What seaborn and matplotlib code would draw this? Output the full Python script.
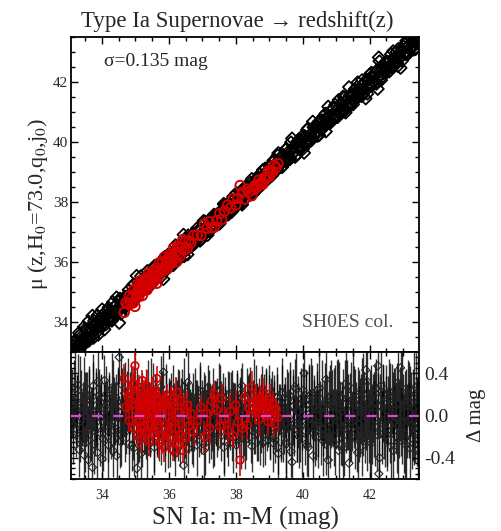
import numpy as np
import pandas as pd
import matplotlib
matplotlib.use("Agg")
import matplotlib.pyplot as plt
import seaborn as sns
from matplotlib.ticker import MultipleLocator, FuncFormatter

sns.set_style("ticks")
plt.rcParams['font.family'] = ['Liberation Serif', 'DejaVu Serif']
plt.rcParams['mathtext.fontset'] = 'stix'

# ---------------- data ----------------
black_mM = [
    33.12, 33.15, 33.20, 33.24, 33.27, 33.32, 33.36, 33.39, 33.44, 33.48, 33.51, 33.56, 33.60,
    33.63, 33.68, 33.72, 33.75, 33.80, 33.84, 33.87, 33.92, 33.96, 33.99, 34.04, 34.08, 34.11,
    34.16, 34.20, 34.23, 34.28, 34.32, 34.35, 34.40, 34.44, 34.47, 34.52, 34.56, 34.59, 34.64,
    34.68, 34.71, 34.76, 34.80, 34.83, 34.88, 34.92, 34.95, 35.00, 35.04, 35.07, 35.12, 35.16,
    35.19, 35.24, 35.28, 35.31, 35.36, 35.40, 35.43, 35.48, 35.52, 35.55, 35.60, 35.64, 35.67,
    35.72, 35.76, 35.79, 35.84, 35.88, 35.91, 35.96, 36.00, 36.03, 36.08, 36.12, 36.15, 36.20,
    36.24, 36.27, 36.32, 36.36, 36.39, 36.44, 36.48, 36.51, 36.56, 36.60, 36.63, 36.68, 36.72,
    36.75, 36.80, 36.84, 36.87, 36.92, 36.96, 36.99, 37.04, 37.08, 37.11, 37.16, 37.20, 37.23,
    37.28, 37.32, 37.35, 37.40, 37.44, 37.47, 37.52, 37.56, 37.59, 37.64, 37.68, 37.71, 37.76,
    37.80, 37.83, 37.88, 37.92, 37.95, 38.00, 38.04, 38.07, 38.12, 38.16, 38.19, 38.24, 38.28,
    38.31, 38.36, 38.40, 38.43, 38.48, 38.52, 38.55, 38.60, 38.64, 38.67, 38.72, 38.76, 38.79,
    38.84, 38.88, 38.91, 38.96, 39.00, 39.03, 39.08, 39.12, 39.15, 39.20, 39.24, 39.27, 39.32,
    39.36, 39.39, 39.44, 39.48, 39.51, 39.56, 39.60, 39.63, 39.68, 39.72, 39.75, 39.80, 39.84,
    39.87, 39.92, 39.96, 39.99, 40.04, 40.08, 40.11, 40.16, 40.20, 40.23, 40.28, 40.32, 40.35,
    40.40, 40.44, 40.47, 40.52, 40.56, 40.59, 40.64, 40.68, 40.71, 40.76, 40.80, 40.83, 40.88,
    40.92, 40.95, 41.00, 41.04, 41.07, 41.12, 41.16, 41.19, 41.24, 41.28, 41.31, 41.36, 41.40,
    41.43, 41.48, 41.52, 41.55, 41.60, 41.64, 41.67, 41.72, 41.76, 41.79, 41.84, 41.88, 41.91,
    41.96, 42.00, 42.03, 42.08, 42.12, 42.15, 42.20, 42.24, 42.27, 42.32, 42.36, 42.39, 42.44,
    42.48, 42.51, 42.56, 42.60, 42.63, 42.68, 42.72, 42.75, 42.80, 42.84, 42.87, 42.92, 42.96,
    42.99, 43.04, 43.08, 43.11, 43.16, 43.20, 43.23, 43.28, 43.32, 43.35, 43.40, 43.44, 43.47,
    33.13, 33.17, 33.22, 33.25, 33.29, 33.34, 33.37, 33.41, 33.46, 33.49, 33.53, 33.58, 33.61,
    33.65, 33.70, 33.73, 33.77, 33.82, 33.85, 33.89, 33.94, 33.97, 34.01, 34.06, 34.09, 34.13,
    34.18, 34.21, 34.25, 34.30, 34.33, 34.37, 34.42, 34.45, 34.49, 34.54, 34.57, 34.61, 34.66,
    34.69, 34.73, 34.78, 34.81, 34.85, 34.90, 34.93, 34.97, 35.02, 35.05, 35.09, 35.14, 35.17,
    35.21, 35.26, 35.29, 35.33, 35.38, 35.41, 35.45, 35.50, 35.53, 35.57, 35.62, 35.65, 35.69,
    35.74, 35.77, 35.81, 35.86, 35.89, 35.93, 35.98, 36.01, 36.05, 36.10, 36.13, 36.17, 36.22,
    36.25, 36.29, 36.34, 36.37, 36.41, 36.46, 36.49, 36.53, 36.58, 36.61, 36.65, 36.70, 36.73,
    36.77, 36.82, 36.85, 36.89, 36.94, 36.97, 37.01, 37.06, 37.09, 37.13, 37.18, 37.21, 37.25,
    37.30, 37.33, 37.37, 37.42, 37.45, 37.49, 37.54, 37.57, 37.61, 37.66, 37.69, 37.73, 37.78,
    37.81, 37.85, 37.90, 37.93, 37.97, 38.02, 38.05, 38.09, 38.14, 38.17, 38.21, 38.26, 38.29,
    38.33, 38.38, 38.41, 38.45, 38.50, 38.53, 38.57, 38.62, 38.65, 38.69, 38.74, 38.77, 38.81,
    38.86, 38.89, 38.93, 38.98, 39.01, 39.05, 39.10, 39.13, 39.17, 39.22, 39.25, 39.29, 39.34,
    39.37, 39.41, 39.46, 39.49, 39.53, 39.58, 39.61, 39.65, 39.70, 39.73, 39.77, 39.82, 39.85,
    39.89, 39.94, 39.97, 40.01, 40.06, 40.09, 40.13, 40.18, 40.21, 40.25, 40.30, 40.33, 40.37,
    40.42, 40.45, 40.49, 40.54, 40.57, 40.61, 40.66, 40.69, 40.73, 40.78, 40.81, 40.85, 40.90,
    40.93, 40.97, 41.02, 41.05, 41.09, 41.14, 41.17, 41.21, 41.26, 41.29, 41.33, 41.38, 41.41,
    41.45, 41.50, 41.53, 41.57, 41.62, 41.65, 41.69, 41.74, 41.77, 41.81, 41.86, 41.89, 41.93,
    41.98, 42.01, 42.05, 42.10, 42.13, 42.17, 42.22, 42.25, 42.29, 42.34, 42.37, 42.41, 42.46,
    42.49, 42.53, 42.58, 42.61, 42.65, 42.70, 42.73, 42.77, 42.82, 42.85, 42.89, 42.94, 42.97,
    43.01, 43.06, 43.09, 43.13, 43.18, 43.21, 43.25, 43.30, 43.33, 43.37, 43.42, 43.45, 43.49,
]
black_dmag = [
    0.12, -0.18, 0.25, -0.05, 0.08, -0.32, 0.18, -0.12, 0.03, 0.22, -0.26, 0.10, -0.42,
    0.15, -0.08, -0.49, 0.28, -0.15, 0.05, -0.35, 0.19, -0.02, 0.11, -0.22, 0.33, -0.10,
    0.07, -0.28, 0.16, -0.06, 0.24, -0.14, 0.02, -0.38, 0.13, 0.55, -0.19, 0.09, -0.04,
    0.21, -0.11, 0.14, -0.27, 0.06, 0.18, -0.08, -0.31, 0.26, -0.50, 0.04, -0.16, 0.12,
    -0.22, 0.08, -0.05, 0.19, -0.34, 0.11, -0.13, 0.23, -0.02, -0.25, 0.15, -0.09, 0.05,
    -0.18, 0.27, -0.07, 0.41, -0.29, 0.13, -0.04, 0.09, -0.21, 0.17, -0.12, 0.02, -0.36,
    0.10, -0.15, 0.22, -0.06, 0.14, -0.47, 0.07, -0.24, 0.31, -0.10, 0.04, -0.19, 0.16,
    -0.08, 0.12, -0.28, 0.05, 0.20, -0.13, 0.09, -0.33, 0.15, -0.02, 0.26, -0.17, 0.06,
    -0.11, 0.18, -0.23, 0.03, 0.13, -0.07, 0.24, -0.15, 0.08, -0.30, 0.11, 0.01, -0.19,
    0.14, -0.09, 0.21, -0.26, 0.06, -0.14, 0.17, -0.04, 0.10, -0.22, 0.28, -0.11, 0.03,
    -0.17, 0.09, -0.05, 0.19, -0.29, 0.12, -0.08, 0.23, -0.13, 0.05, -0.21, 0.15, -0.02,
    0.11, -0.24, 0.17, -0.06, 0.08, -0.16, 0.20, -0.26, 0.04, -0.10, 0.13, -0.36, 0.07,
    -0.14, 0.22, -0.03, 0.12, -0.27, 0.06, -0.11, 0.18, -0.44, 0.09, -0.07, 0.25, -0.18,
    0.04, -0.12, 0.16, -0.22, 0.40, -0.06, 0.10, -0.30, 0.19, -0.01, 0.13, -0.17, 0.07,
    -0.09, 0.24, -0.20, 0.05, 0.15, -0.13, 0.02, -0.27, 0.11, -0.42, 0.18, -0.05, 0.08,
    -0.19, 0.13, -0.04, 0.21, -0.33, 0.07, -0.10, 0.16, -0.24, 0.30, -0.08, 0.03, -0.15,
    0.19, -0.06, 0.11, -0.21, 0.05, -0.35, 0.14, -0.02, 0.23, -0.12, 0.08, 0.43, -0.17,
    0.06, -0.25, 0.17, -0.08, 0.12, -0.15, 0.26, 0.47, -0.55, 0.09, -0.11, 0.20, -0.04,
    0.13, -0.18, 0.04, 0.22, -0.29, 0.10, -0.07, 0.16, -0.20, 0.31, -0.03, 0.45, -0.13,
    0.08, -0.22, 0.15, -0.05, 0.19, -0.31, 0.11, -0.09, 0.24, -0.16, 0.03, -0.27, 0.14,
    -0.08, 0.21, -0.15, 0.04, 0.29, -0.22, 0.10, -0.03, -0.37, 0.16, 0.06, -0.19, 0.24,
    -0.12, 0.02, 0.18, -0.27, 0.09, -0.06, 0.32, -0.16, 0.13, -0.41, 0.07, -0.01, 0.20,
    -0.20, 0.11, -0.09, 0.26, -0.33, 0.05, 0.17, -0.13, 0.08, -0.24, 0.30, -0.04, 0.14,
    -0.16, 0.03, 0.23, -0.10, 0.12, -0.28, 0.07, 0.19, -0.05, 0.15, -0.21, 0.01, -0.36,
    0.17, -0.07, 0.10, -0.19, 0.25, -0.02, -0.14, 0.06, 0.21, -0.30, 0.12, -0.11, 0.03,
    0.09, -0.23, 0.15, -0.01, -0.12, 0.20, -0.27, 0.07, 0.13, -0.09, 0.24, -0.17, 0.05,
    -0.03, 0.18, -0.20, 0.11, -0.08, 0.27, -0.15, 0.02, -0.31, 0.14, -0.06, 0.09, -0.22,
    0.16, -0.04, 0.08, -0.18, 0.23, -0.11, 0.01, 0.14, -0.26, 0.10, -0.07, 0.19, -0.13,
    0.05, -0.21, 0.12, -0.02, -0.15, 0.22, -0.09, 0.07, 0.17, -0.24, 0.03, -0.12, 0.20,
    -0.06, 0.13, -0.17, 0.09, 0.02, -0.28, 0.16, -0.10, 0.06, 0.21, -0.14, 0.04, -0.23,
    0.18, -0.03, 0.11, -0.20, 0.07, 0.25, -0.12, 0.01, -0.17, 0.14, -0.08, 0.22, -0.26,
    0.03, 0.15, -0.10, 0.20, -0.19, 0.08, -0.04, 0.12, -0.23, 0.17, -0.30, 0.06, -0.11,
    0.21, -0.16, 0.05, -0.25, 0.14, -0.02, 0.19, -0.34, 0.08, -0.09, 0.27, -0.13, 0.03,
    -0.20, 0.10, -0.05, 0.24, -0.14, 0.06, -0.28, 0.15, -0.03, 0.20, -0.38, 0.09, -0.12,
    0.14, -0.07, 0.26, -0.17, 0.03, -0.24, 0.12, 0.34, -0.10, 0.07, -0.21, 0.18, -0.02,
    0.09, -0.27, 0.19, -0.06, 0.13, -0.16, 0.04, -0.31, 0.22, -0.09, 0.15, -0.45, 0.11,
    -0.13, 0.25, -0.04, 0.10, -0.22, 0.17, -0.08, 0.06, -0.29, 0.20, -0.15, 0.02, 0.32,
    -0.10, 0.14, -0.26, 0.07, -0.03, 0.21, -0.18, 0.09, -0.40, 0.28, -0.07, 0.12, -0.20,
    0.05, -0.14, 0.23, -0.09, 0.16, -0.33, 0.08, -0.02, 0.19, -0.25, 0.11, -0.06, 0.26,
    -0.17, 0.09, -0.28, 0.21, -0.04, 0.13, -0.21, 0.06, -0.12, 0.27, -0.08, 0.17, -0.35,
]
black_err = [
    0.32, 0.28, 0.35, 0.22, 0.30, 0.26, 0.38, 0.24, 0.29, 0.33, 0.27, 0.31, 0.25,
    0.29, 0.34, 0.26, 0.30, 0.23, 0.36, 0.28, 0.25, 0.32, 0.27, 0.30, 0.24, 0.33,
    0.26, 0.31, 0.22, 0.35, 0.28, 0.24, 0.30, 0.27, 0.33, 0.25, 0.29, 0.36, 0.23,
    0.30, 0.25, 0.28, 0.32, 0.22, 0.27, 0.34, 0.26, 0.29, 0.24, 0.31, 0.28, 0.25,
    0.27, 0.22, 0.30, 0.25, 0.29, 0.21, 0.26, 0.31, 0.23, 0.28, 0.24, 0.27, 0.22,
    0.25, 0.29, 0.21, 0.27, 0.24, 0.30, 0.22, 0.26, 0.28, 0.23, 0.25, 0.29, 0.21,
    0.24, 0.28, 0.21, 0.26, 0.30, 0.23, 0.27, 0.22, 0.29, 0.25, 0.21, 0.27, 0.24,
    0.26, 0.22, 0.29, 0.24, 0.27, 0.21, 0.25, 0.30, 0.23, 0.26, 0.22, 0.28, 0.25,
    0.23, 0.27, 0.25, 0.30, 0.22, 0.26, 0.24, 0.28, 0.21, 0.27, 0.25, 0.23, 0.29,
    0.27, 0.24, 0.22, 0.28, 0.25, 0.30, 0.23, 0.26, 0.24, 0.29, 0.22, 0.27, 0.25,
    0.25, 0.29, 0.23, 0.27, 0.24, 0.22, 0.28, 0.25, 0.30, 0.23, 0.26, 0.24, 0.28,
    0.28, 0.23, 0.26, 0.24, 0.30, 0.25, 0.22, 0.27, 0.29, 0.24, 0.26, 0.31, 0.23,
    0.30, 0.26, 0.33, 0.24, 0.28, 0.35, 0.27, 0.25, 0.31, 0.29, 0.23, 0.34, 0.26,
    0.27, 0.32, 0.25, 0.36, 0.29, 0.24, 0.33, 0.28, 0.30, 0.26, 0.35, 0.27, 0.31,
    0.33, 0.26, 0.30, 0.28, 0.37, 0.25, 0.32, 0.29, 0.27, 0.34, 0.30, 0.26, 0.35,
    0.29, 0.35, 0.27, 0.32, 0.30, 0.26, 0.38, 0.28, 0.33, 0.31, 0.25, 0.36, 0.29,
    0.32, 0.28, 0.36, 0.30, 0.27, 0.34, 0.29, 0.37, 0.31, 0.26, 0.33, 0.30, 0.35,
    0.28, 0.34, 0.31, 0.38, 0.29, 0.33, 0.27, 0.36, 0.32, 0.30, 0.35, 0.28, 0.37,
    0.35, 0.30, 0.33, 0.28, 0.39, 0.31, 0.36, 0.29, 0.34, 0.32, 0.37, 0.30, 0.33,
    0.31, 0.37, 0.29, 0.35, 0.32, 0.38, 0.30, 0.34, 0.36, 0.29, 0.33, 0.39, 0.32,
    0.27, 0.31, 0.24, 0.34, 0.29, 0.22, 0.33, 0.26, 0.30, 0.25, 0.35, 0.28, 0.23,
    0.31, 0.25, 0.33, 0.28, 0.36, 0.24, 0.29, 0.32, 0.26, 0.30, 0.23, 0.34, 0.27,
    0.24, 0.30, 0.27, 0.33, 0.25, 0.31, 0.22, 0.28, 0.35, 0.26, 0.29, 0.24, 0.32,
    0.28, 0.23, 0.31, 0.26, 0.29, 0.24, 0.33, 0.27, 0.22, 0.30, 0.25, 0.28, 0.32,
    0.23, 0.28, 0.25, 0.22, 0.27, 0.30, 0.24, 0.21, 0.29, 0.26, 0.23, 0.28, 0.25,
    0.28, 0.24, 0.27, 0.22, 0.26, 0.29, 0.23, 0.25, 0.21, 0.28, 0.24, 0.26, 0.30,
    0.22, 0.26, 0.29, 0.24, 0.21, 0.27, 0.25, 0.30, 0.23, 0.26, 0.28, 0.22, 0.27,
    0.29, 0.24, 0.26, 0.21, 0.28, 0.25, 0.23, 0.27, 0.30, 0.22, 0.26, 0.24, 0.28,
    0.25, 0.29, 0.22, 0.27, 0.24, 0.28, 0.21, 0.26, 0.23, 0.30, 0.25, 0.27, 0.22,
    0.24, 0.28, 0.26, 0.23, 0.29, 0.22, 0.27, 0.25, 0.30, 0.24, 0.26, 0.21, 0.28,
    0.27, 0.23, 0.29, 0.25, 0.22, 0.28, 0.24, 0.30, 0.26, 0.21, 0.27, 0.25, 0.23,
    0.25, 0.30, 0.24, 0.28, 0.23, 0.27, 0.31, 0.26, 0.22, 0.29, 0.25, 0.24, 0.30,
    0.33, 0.28, 0.25, 0.35, 0.30, 0.27, 0.32, 0.24, 0.36, 0.29, 0.26, 0.31, 0.34,
    0.30, 0.35, 0.28, 0.26, 0.33, 0.37, 0.29, 0.32, 0.27, 0.34, 0.30, 0.25, 0.36,
    0.28, 0.32, 0.36, 0.30, 0.27, 0.33, 0.38, 0.26, 0.31, 0.35, 0.29, 0.34, 0.27,
    0.36, 0.29, 0.33, 0.27, 0.38, 0.31, 0.28, 0.35, 0.30, 0.26, 0.37, 0.32, 0.29,
    0.30, 0.37, 0.27, 0.34, 0.31, 0.29, 0.36, 0.33, 0.28, 0.39, 0.30, 0.35, 0.32,
    0.35, 0.29, 0.38, 0.32, 0.36, 0.28, 0.34, 0.31, 0.39, 0.33, 0.30, 0.37, 0.29,
    0.32, 0.38, 0.30, 0.36, 0.33, 0.29, 0.37, 0.34, 0.31, 0.40, 0.35, 0.32, 0.38,
    0.37, 0.33, 0.39, 0.31, 0.36, 0.34, 0.30, 0.38, 0.35, 0.32, 0.40, 0.36, 0.33,
]

red_mM = [
    34.67, 34.72, 34.78, 34.82, 34.86, 34.90, 34.93, 34.96, 34.99, 35.02, 35.04, 35.07, 35.09, 35.11,
    35.13, 35.15, 35.17, 35.19, 35.21, 35.23, 35.25, 35.27, 35.29, 35.31, 35.33, 35.35, 35.37, 35.39,
    35.41, 35.43, 35.45, 35.47, 35.49, 35.52, 35.54, 35.56, 35.58, 35.60, 35.62, 35.64, 35.67, 35.70,
    35.72, 35.75, 35.78, 35.81, 35.84, 35.87, 35.90, 35.93, 35.96, 35.99, 36.02, 36.05, 36.08, 36.11,
    36.14, 36.17, 36.20, 36.23, 36.26, 36.29, 36.32, 36.35, 36.38, 36.42, 36.46, 36.50, 36.55, 36.60,
    36.66, 36.74, 36.85, 36.96, 37.06, 37.15, 37.22, 37.28, 37.36, 37.43, 37.52, 37.58, 37.67, 37.76,
    37.84, 37.92, 38.00, 38.06, 38.13, 38.20, 38.27, 38.34, 38.40, 38.48, 38.53, 38.57, 38.61, 38.65,
    38.69, 38.73, 38.77, 38.81, 38.85, 38.89, 38.93, 38.97, 39.01, 39.05, 39.10, 39.15, 39.20, 39.26,
]
red_dmag = [
    0.35, 0.08, 0.18, -0.05, 0.22, 0.10, 0.30, -0.12, 0.47, 0.05, 0.19, -0.18, 0.12, 0.26,
    -0.06, 0.08, -0.22, 0.15, 0.33, 0.02, -0.10, 0.21, 0.07, -0.15, 0.12, 0.28, -0.03, 0.18,
    -0.24, 0.09, 0.14, -0.08, 0.22, 0.04, -0.17, 0.11, 0.19, -0.05, 0.06, 0.35, -0.12, 0.16,
    -0.26, 0.08, 0.02, -0.20, 0.13, -0.30, 0.10, -0.08, 0.18, -0.15, 0.05, -0.22, 0.12, -0.05,
    -0.32, 0.09, -0.12, 0.22, -0.27, 0.03, -0.18, 0.14, -0.08, -0.33, 0.06, -0.20, 0.10, -0.10,
    0.02, -0.15, -0.05, 0.08, -0.20, 0.02, -0.12, 0.14, 0.20, 0.05, -0.10, 0.16, -0.03, -0.14,
    0.04, -0.19, 0.10, -0.06, -0.42, -0.12, 0.17, -0.09, 0.06, 0.27, 0.12, 0.03, 0.14, 0.08,
    -0.04, 0.16, 0.10, 0.21, 0.05, 0.13, 0.08, -0.06, 0.15, 0.04, 0.11, -0.08, 0.06, -0.02,
]
red_err = [
    0.14, 0.12, 0.16, 0.11, 0.15, 0.13, 0.17, 0.12, 0.14, 0.10, 0.15, 0.13, 0.16, 0.12,
    0.11, 0.14, 0.13, 0.15, 0.10, 0.12, 0.16, 0.13, 0.11, 0.14, 0.12, 0.15, 0.13, 0.10,
    0.14, 0.12, 0.16, 0.11, 0.13, 0.15, 0.12, 0.14, 0.10, 0.13, 0.16, 0.12, 0.14, 0.11,
    0.15, 0.13, 0.12, 0.16, 0.11, 0.14, 0.13, 0.15, 0.12, 0.10, 0.14, 0.13, 0.16, 0.12,
    0.11, 0.15, 0.13, 0.14, 0.12, 0.16, 0.10, 0.13, 0.15, 0.12, 0.14, 0.11, 0.13, 0.16,
    0.12, 0.14, 0.13, 0.11, 0.15, 0.12, 0.16, 0.14, 0.13, 0.15, 0.12, 0.14, 0.11, 0.13,
    0.16, 0.12, 0.14, 0.13, 0.15, 0.11, 0.13, 0.14, 0.12, 0.15, 0.13, 0.11, 0.14, 0.12,
    0.15, 0.13, 0.12, 0.14, 0.11, 0.16, 0.13, 0.12, 0.15, 0.14, 0.12, 0.13, 0.11, 0.14,
]

black = pd.DataFrame({"mM": black_mM, "dmag": black_dmag, "err": black_err})
black["mu"] = black["mM"] - black["dmag"]
red = pd.DataFrame({"mM": red_mM, "dmag": red_dmag, "err": red_err})
red["mu"] = red["mM"] - red["dmag"]

RED = "#d40000"

# ---------------- figure ----------------
fig = plt.figure(figsize=(5.02, 5.31), dpi=100)
ax1 = fig.add_axes([0.1414, 0.3371, 0.6932, 0.5932])
ax2 = fig.add_axes([0.1414, 0.0979, 0.6932, 0.2392], sharex=ax1)

# top panel
sns.scatterplot(data=black, x="mM", y="mu", ax=ax1, marker="D", s=38,
                facecolor="none", edgecolor="black", linewidth=1.3, legend=False)
sns.scatterplot(data=red, x="mM", y="mu", ax=ax1, marker="o", s=46,
                facecolor="none", edgecolor=RED, linewidth=1.4, legend=False)

# bottom panel
ax2.errorbar(black["mM"], black["dmag"], yerr=black["err"], fmt="none",
             ecolor="#000000", elinewidth=1.0, alpha=0.8, capsize=0, zorder=1)
sns.scatterplot(data=black, x="mM", y="dmag", ax=ax2, marker="D", s=18,
                facecolor="none", edgecolor="#222222", linewidth=0.8, legend=False, zorder=2)
ax2.errorbar(red["mM"], red["dmag"], yerr=red["err"], fmt="none",
             ecolor=RED, elinewidth=1.2, alpha=0.95, capsize=0, zorder=3)
sns.scatterplot(data=red, x="mM", y="dmag", ax=ax2, marker="o", s=30,
                facecolor="none", edgecolor=RED, linewidth=1.2, legend=False, zorder=4)
ax2.axhline(0.0, color="#dc46d8", lw=1.6, dashes=(4.5, 5), zorder=5)

# limits
ax1.set_xlim(33.08, 43.47)
ax1.set_ylim(33.0, 43.5)
ax2.set_ylim(-0.6, 0.6)

# ticks
for ax in (ax1, ax2):
    ax.tick_params(which="both", direction="in", top=True, right=True, left=True, bottom=True,
                   width=1.0, color="black")
    ax.tick_params(which="major", length=5)
    ax.tick_params(which="minor", length=3)
    for sp in ax.spines.values():
        sp.set_linewidth(1.3)
        sp.set_color("black")
    ax.xaxis.set_major_locator(MultipleLocator(2))
    ax.xaxis.set_minor_locator(MultipleLocator(0.5))

ax1.yaxis.set_major_locator(MultipleLocator(2))
ax1.yaxis.set_minor_locator(MultipleLocator(0.5))
ax1.tick_params(axis="x", labelbottom=False)
ax1.tick_params(axis="y", labelsize=11, pad=2)

ax2.yaxis.set_major_locator(MultipleLocator(0.4))
ax2.yaxis.set_minor_locator(MultipleLocator(0.05))
ax2.tick_params(axis="y", labelleft=False, labelright=True, labelsize=14, pad=4)
ax2.tick_params(axis="x", labelsize=10, pad=7)
ax2.yaxis.set_major_formatter(FuncFormatter(lambda v, p: f"{v:.1f}".replace("-0.0", "0.0")))

# labels
ax1.set_xlabel("")
ax1.set_ylabel(r"μ (z,H$_0$=73.0,q$_0$,j$_0$)", fontsize=16)
ax1.yaxis.set_label_coords(-0.06, 0.47)
ax1.set_title("Type Ia Supernovae → redshift(z)", fontsize=16.5, pad=7, x=0.477)

ax2.set_xlabel("SN Ia: m-M (mag)", fontsize=18, labelpad=4)
ax2.set_ylabel("Δ mag", fontsize=15)
ax2.yaxis.set_label_position("right")
ax2.yaxis.set_label_coords(1.138, 0.5)

ax1.text(0.095, 0.908, "σ=0.135 mag", transform=ax1.transAxes, fontsize=14,
         ha="left", va="baseline")
ax1.text(0.925, 0.079, "SH0ES col.", transform=ax1.transAxes, fontsize=14,
         ha="right", va="baseline", color="#505050")

fig.savefig("out.png", dpi=100)
